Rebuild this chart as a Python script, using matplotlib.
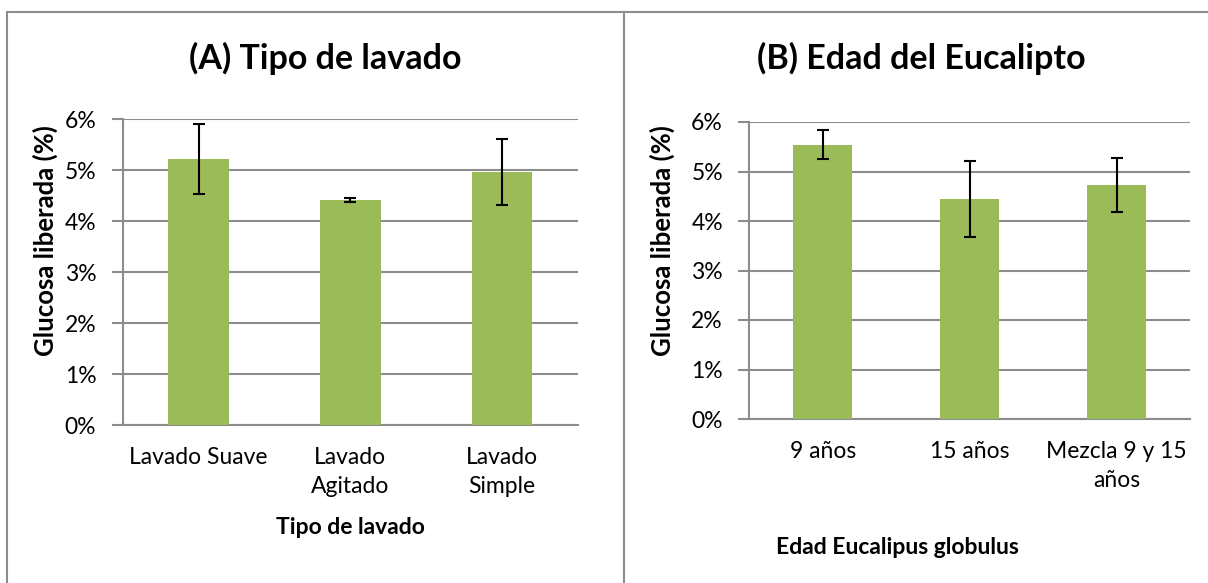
import numpy as np
import matplotlib.pyplot as plt
from matplotlib.lines import Line2D
from matplotlib.ticker import FuncFormatter

plt.rcParams['font.family'] = ['Lato', 'DejaVu Sans']

# datos
lavado_cat = ['Lavado Suave', 'Lavado\nAgitado', 'Lavado\nSimple']
lavado_val = [5.22, 4.41, 4.97]
lavado_err = [0.69, 0.04, 0.65]

edad_cat = ['9 años', '15 años', 'Mezcla 9 y 15\naños']
edad_val = [5.54, 4.44, 4.73]
edad_err = [0.29, 0.77, 0.54]

W, H = 1208, 583
fig = plt.figure(figsize=(W / 100, H / 100), dpi=100)

bar_color = '#9BBB59'
grid_color = '#8c8c8c'


def px_rect(left, right, top, bottom):
    return [left / W, (H - bottom) / H, (right - left) / W, (bottom - top) / H]


def panel(rect, cats, vals, errs, title, title_x, xlabel, xlabel_x, xlabel_y, ylabel_x):
    ax = fig.add_axes(rect)
    x = np.arange(len(cats))
    ax.bar(x, vals, width=0.4, color=bar_color, zorder=3)
    ax.errorbar(x, vals, yerr=errs, fmt='none', ecolor='black',
                elinewidth=1.5, capsize=4.2, capthick=1.5, zorder=4)
    ax.set_xlim(-0.5, len(cats) - 0.5)
    ax.set_ylim(0, 6)
    ax.set_yticks(np.arange(0, 7, 1))
    ax.yaxis.set_major_formatter(FuncFormatter(lambda v, p: f'{v:.0f}%'))
    ax.set_xticks(x)
    ax.set_xticklabels(cats, fontsize=16.5, linespacing=1.45)
    ax.tick_params(axis='x', length=0, pad=16)
    ax.tick_params(axis='y', length=8, width=1.5, color=grid_color,
                   labelsize=16.5, pad=11)
    ax.grid(axis='y', color=grid_color, linewidth=1.5, zorder=0)
    for s in ['top', 'right']:
        ax.spines[s].set_visible(False)
    ax.spines['left'].set_color(grid_color)
    ax.spines['left'].set_linewidth(1.5)
    ax.spines['bottom'].set_color(grid_color)
    ax.spines['bottom'].set_linewidth(1.5)
    fig.text(ylabel_x / W, 1 - 241 / H, 'Glucosa liberada (%)', fontsize=18.5,
             fontweight='bold', rotation=90, ha='center', va='center')
    fig.text(title_x / W, 1 - 58 / H, title, fontsize=24.5, fontweight='bold',
             ha='center', va='center')
    fig.text(xlabel_x / W, 1 - xlabel_y / H, xlabel, fontsize=16.5,
             fontweight='bold', ha='center', va='center')
    return ax


panel(px_rect(122.7, 577.7, 119.3, 425), lavado_cat, lavado_val, lavado_err,
      '(A) Tipo de lavado', 325, 'Tipo de lavado', 350, 528, 45)
panel(px_rect(749.3, 1190, 122, 419), edad_cat, edad_val, edad_err,
      '(B) Edad del Eucalipto', 921, 'Edad Eucalipus globulus', 897, 547, 662)

# marcos de los paneles
frame = dict(color=grid_color, linewidth=1.5, transform=fig.transFigure)
fig.add_artist(Line2D([6.7 / W, 1], [1 - 12.3 / H, 1 - 12.3 / H], **frame))
fig.add_artist(Line2D([6.7 / W, 6.7 / W], [0, 1 - 12.3 / H], **frame))
fig.add_artist(Line2D([624 / W, 624 / W], [0, 1 - 12.3 / H], **frame))

fig.savefig('out.png', dpi=100)
